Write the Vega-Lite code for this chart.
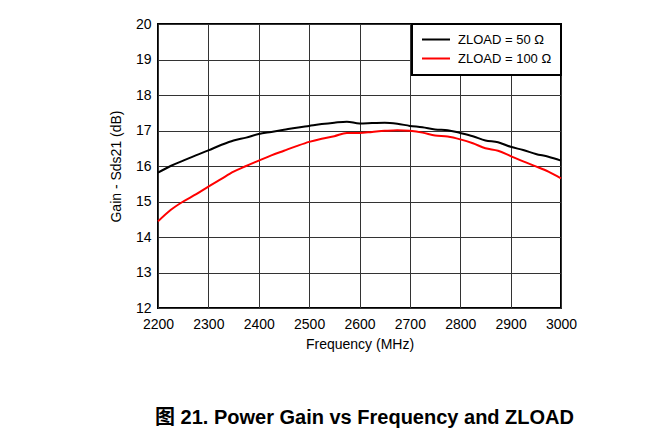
{
  "$schema": "https://vega.github.io/schema/vega-lite/v6.json",
  "width": 403,
  "height": 284,
  "autosize": {"type": "none"},
  "padding": {"left": 158, "top": 24, "right": 108, "bottom": 132},
  "background": "white",
  "title": {
    "text": "图 21. Power Gain vs Frequency and ZLOAD",
    "orient": "bottom",
    "anchor": "start",
    "frame": "group",
    "dx": -3,
    "offset": 57,
    "font": "Liberation Sans, Noto Sans CJK SC",
    "fontSize": 20,
    "fontWeight": "bold",
    "color": "black"
  },
  "config": {
    "view": {"stroke": "black", "strokeWidth": 2},
    "font": "Liberation Sans",
    "axis": {
      "domain": false,
      "ticks": false,
      "tickSize": 0,
      "grid": true,
      "gridColor": "#333333",
      "gridWidth": 1,
      "gridOpacity": 1,
      "labelFont": "Liberation Sans",
      "labelFontSize": 14,
      "labelColor": "black",
      "labelFlush": false,
      "labelOverlap": false,
      "titleFont": "Liberation Sans",
      "titleFontSize": 14,
      "titleFontWeight": "normal",
      "titleColor": "black"
    },
    "legend": {
      "labelFont": "Liberation Sans",
      "labelFontSize": 13,
      "labelColor": "black"
    }
  },
  "data": {
    "values": [
      {"f": 2200, "gain": 15.81, "load": "ZLOAD = 50 Ω"},
      {"f": 2225, "gain": 16.0, "load": "ZLOAD = 50 Ω"},
      {"f": 2250, "gain": 16.15, "load": "ZLOAD = 50 Ω"},
      {"f": 2275, "gain": 16.3, "load": "ZLOAD = 50 Ω"},
      {"f": 2300, "gain": 16.44, "load": "ZLOAD = 50 Ω"},
      {"f": 2325, "gain": 16.59, "load": "ZLOAD = 50 Ω"},
      {"f": 2350, "gain": 16.72, "load": "ZLOAD = 50 Ω"},
      {"f": 2375, "gain": 16.8, "load": "ZLOAD = 50 Ω"},
      {"f": 2400, "gain": 16.9, "load": "ZLOAD = 50 Ω"},
      {"f": 2425, "gain": 16.96, "load": "ZLOAD = 50 Ω"},
      {"f": 2450, "gain": 17.02, "load": "ZLOAD = 50 Ω"},
      {"f": 2475, "gain": 17.08, "load": "ZLOAD = 50 Ω"},
      {"f": 2500, "gain": 17.13, "load": "ZLOAD = 50 Ω"},
      {"f": 2525, "gain": 17.18, "load": "ZLOAD = 50 Ω"},
      {"f": 2550, "gain": 17.22, "load": "ZLOAD = 50 Ω"},
      {"f": 2575, "gain": 17.25, "load": "ZLOAD = 50 Ω"},
      {"f": 2600, "gain": 17.2, "load": "ZLOAD = 50 Ω"},
      {"f": 2625, "gain": 17.21, "load": "ZLOAD = 50 Ω"},
      {"f": 2650, "gain": 17.22, "load": "ZLOAD = 50 Ω"},
      {"f": 2675, "gain": 17.19, "load": "ZLOAD = 50 Ω"},
      {"f": 2700, "gain": 17.13, "load": "ZLOAD = 50 Ω"},
      {"f": 2725, "gain": 17.09, "load": "ZLOAD = 50 Ω"},
      {"f": 2750, "gain": 17.03, "load": "ZLOAD = 50 Ω"},
      {"f": 2775, "gain": 17.01, "load": "ZLOAD = 50 Ω"},
      {"f": 2800, "gain": 16.93, "load": "ZLOAD = 50 Ω"},
      {"f": 2825, "gain": 16.84, "load": "ZLOAD = 50 Ω"},
      {"f": 2850, "gain": 16.72, "load": "ZLOAD = 50 Ω"},
      {"f": 2875, "gain": 16.67, "load": "ZLOAD = 50 Ω"},
      {"f": 2900, "gain": 16.54, "load": "ZLOAD = 50 Ω"},
      {"f": 2925, "gain": 16.45, "load": "ZLOAD = 50 Ω"},
      {"f": 2950, "gain": 16.34, "load": "ZLOAD = 50 Ω"},
      {"f": 2975, "gain": 16.26, "load": "ZLOAD = 50 Ω"},
      {"f": 3000, "gain": 16.15, "load": "ZLOAD = 50 Ω"},
      {"f": 2200, "gain": 14.44, "load": "ZLOAD = 100 Ω"},
      {"f": 2225, "gain": 14.76, "load": "ZLOAD = 100 Ω"},
      {"f": 2250, "gain": 15.0, "load": "ZLOAD = 100 Ω"},
      {"f": 2275, "gain": 15.2, "load": "ZLOAD = 100 Ω"},
      {"f": 2300, "gain": 15.42, "load": "ZLOAD = 100 Ω"},
      {"f": 2325, "gain": 15.63, "load": "ZLOAD = 100 Ω"},
      {"f": 2350, "gain": 15.84, "load": "ZLOAD = 100 Ω"},
      {"f": 2375, "gain": 16.0, "load": "ZLOAD = 100 Ω"},
      {"f": 2400, "gain": 16.15, "load": "ZLOAD = 100 Ω"},
      {"f": 2425, "gain": 16.3, "load": "ZLOAD = 100 Ω"},
      {"f": 2450, "gain": 16.43, "load": "ZLOAD = 100 Ω"},
      {"f": 2475, "gain": 16.56, "load": "ZLOAD = 100 Ω"},
      {"f": 2500, "gain": 16.68, "load": "ZLOAD = 100 Ω"},
      {"f": 2525, "gain": 16.77, "load": "ZLOAD = 100 Ω"},
      {"f": 2550, "gain": 16.84, "load": "ZLOAD = 100 Ω"},
      {"f": 2575, "gain": 16.93, "load": "ZLOAD = 100 Ω"},
      {"f": 2600, "gain": 16.93, "load": "ZLOAD = 100 Ω"},
      {"f": 2625, "gain": 16.96, "load": "ZLOAD = 100 Ω"},
      {"f": 2650, "gain": 16.99, "load": "ZLOAD = 100 Ω"},
      {"f": 2675, "gain": 17.01, "load": "ZLOAD = 100 Ω"},
      {"f": 2700, "gain": 16.99, "load": "ZLOAD = 100 Ω"},
      {"f": 2725, "gain": 16.94, "load": "ZLOAD = 100 Ω"},
      {"f": 2750, "gain": 16.86, "load": "ZLOAD = 100 Ω"},
      {"f": 2775, "gain": 16.83, "load": "ZLOAD = 100 Ω"},
      {"f": 2800, "gain": 16.75, "load": "ZLOAD = 100 Ω"},
      {"f": 2825, "gain": 16.64, "load": "ZLOAD = 100 Ω"},
      {"f": 2850, "gain": 16.5, "load": "ZLOAD = 100 Ω"},
      {"f": 2875, "gain": 16.43, "load": "ZLOAD = 100 Ω"},
      {"f": 2900, "gain": 16.28, "load": "ZLOAD = 100 Ω"},
      {"f": 2925, "gain": 16.13, "load": "ZLOAD = 100 Ω"},
      {"f": 2950, "gain": 15.99, "load": "ZLOAD = 100 Ω"},
      {"f": 2975, "gain": 15.84, "load": "ZLOAD = 100 Ω"},
      {"f": 3000, "gain": 15.65, "load": "ZLOAD = 100 Ω"}
    ]
  },
  "mark": {"type": "line", "strokeWidth": 2, "interpolate": "monotone"},
  "encoding": {
    "x": {
      "field": "f",
      "type": "quantitative",
      "scale": {"domain": [2200, 3000], "nice": false, "zero": false},
      "axis": {"values": [2200, 2300, 2400, 2500, 2600, 2700, 2800, 2900, 3000], "labelPadding": 9, "title": "Frequency (MHz)", "titlePadding": 6, "format": "d"}
    },
    "y": {
      "field": "gain",
      "type": "quantitative",
      "scale": {"domain": [12, 20], "nice": false, "zero": false},
      "axis": {"values": [12, 13, 14, 15, 16, 17, 18, 19, 20], "labelPadding": 7, "title": "Gain - Sds21 (dB)", "titlePadding": 12}
    },
    "color": {
      "field": "load",
      "type": "nominal",
      "scale": {"domain": ["ZLOAD = 50 Ω", "ZLOAD = 100 Ω"], "range": ["black", "#ff0000"]},
      "legend": {
        "title": null,
        "orient": "top-right",
        "offset": 0,
        "padding": 9,
        "strokeColor": "black",
        "fillColor": "white",
        "symbolType": "stroke",
        "symbolSize": 784,
        "symbolStrokeWidth": 2,
        "labelOffset": 7,
        "clipHeight": 13,
        "rowPadding": 5,
        "encode": {"legend": {"update": {"strokeWidth": {"value": 2}}}}
      }
    }
  }
}
